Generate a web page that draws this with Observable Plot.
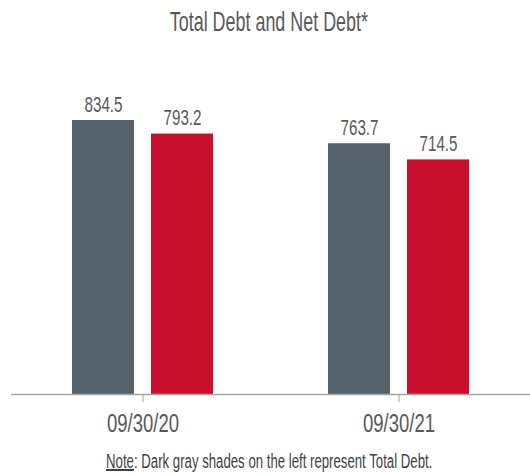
<!DOCTYPE html>
<html>
<head>
<meta charset="utf-8">
<script src="https://cdn.jsdelivr.net/npm/d3@7"></script>
<script src="https://cdn.jsdelivr.net/npm/@observablehq/plot@0.6"></script>
<style>
  html, body { margin: 0; padding: 0; background: #fff; }
  body { width: 530px; height: 476px; overflow: hidden; font-family: "Liberation Sans", Arial, sans-serif; color: #595959; }
  #title { height: 50px; line-height: 44px; text-align: center; font-size: 28px; padding-left: 7px; white-space: nowrap; }
  #note { height: 26px; line-height: 22px; text-align: center; font-size: 20px; color: #3f3f3f; padding-left: 8px; white-space: nowrap; }
  .squeeze { display: inline-block; transform-origin: center; }
  svg { display: block; }
</style>
</head>
<body>
<div id="title"><span class="squeeze" style="transform: scaleX(0.64)">Total Debt and Net Debt*</span></div>
<div id="chart"></div>
<div id="note"><span class="squeeze" style="transform: scaleX(0.66)"><u>Note</u>: Dark gray shades on the left represent Total Debt.</span></div>
<script>
const dates = ["09/30/20", "09/30/21"];
const series = ["Total Debt", "Net Debt"];
const totalDebt = [834.5, 763.7];
const netDebt = [793.2, 714.5];
const colors = ["#56636d", "#c8102e"];

const data = [];
dates.forEach((d, i) => {
  data.push({date: d, series: series[0], value: totalDebt[i]});
  data.push({date: d, series: series[1], value: netDebt[i]});
});
const tot = data.filter(d => d.series === series[0]);
const net = data.filter(d => d.series === series[1]);

const font = '"Liberation Sans", Arial, sans-serif';

const chart = Plot.plot({
  width: 530,
  height: 400,
  marginTop: 70,
  marginBottom: 56,
  marginLeft: 11,
  marginRight: 0,
  style: {fontFamily: font, background: "#fff", color: "#595959"},
  x: {domain: dates, paddingInner: 0.4475, paddingOuter: 0.2335},
  y: {domain: [0, 834.5], axis: null},
  color: {domain: series, range: colors},
  marks: [
    Plot.barY(tot, {x: "date", y: "value", fill: "series", insetRight: 79}),
    Plot.barY(net, {x: "date", y: "value", fill: "series", insetLeft: 79}),
    Plot.text(tot, {x: "date", y: "value", text: d => d.value.toFixed(1), dx: -39.5, dy: -9, lineAnchor: "bottom", fontSize: 22, fill: "#595959", className: "val"}),
    Plot.text(net, {x: "date", y: "value", text: d => d.value.toFixed(1), dx: 39.5, dy: -9, lineAnchor: "bottom", fontSize: 22, fill: "#595959", className: "val"}),
    Plot.ruleY([0], {stroke: "#a6a6a6", strokeWidth: 1.5}),
    Plot.axisX({tickSize: 8, tickPadding: 12, fontSize: 25, label: null, stroke: "#a6a6a6", fill: "#595959"})
  ]
});
document.getElementById("chart").appendChild(chart);

// condense glyphs horizontally (narrow typeface look)
d3.select(chart).selectAll("g[aria-label='x-axis tick label'] text").each(function() {
  const len = this.getComputedTextLength();
  this.setAttribute("textLength", len * 0.74);
  this.setAttribute("lengthAdjust", "spacingAndGlyphs");
});
d3.select(chart).selectAll("g[aria-label='text'] text").each(function() {
  const len = this.getComputedTextLength();
  this.setAttribute("textLength", len * 0.69);
  this.setAttribute("lengthAdjust", "spacingAndGlyphs");
});
</script>
</body>
</html>
